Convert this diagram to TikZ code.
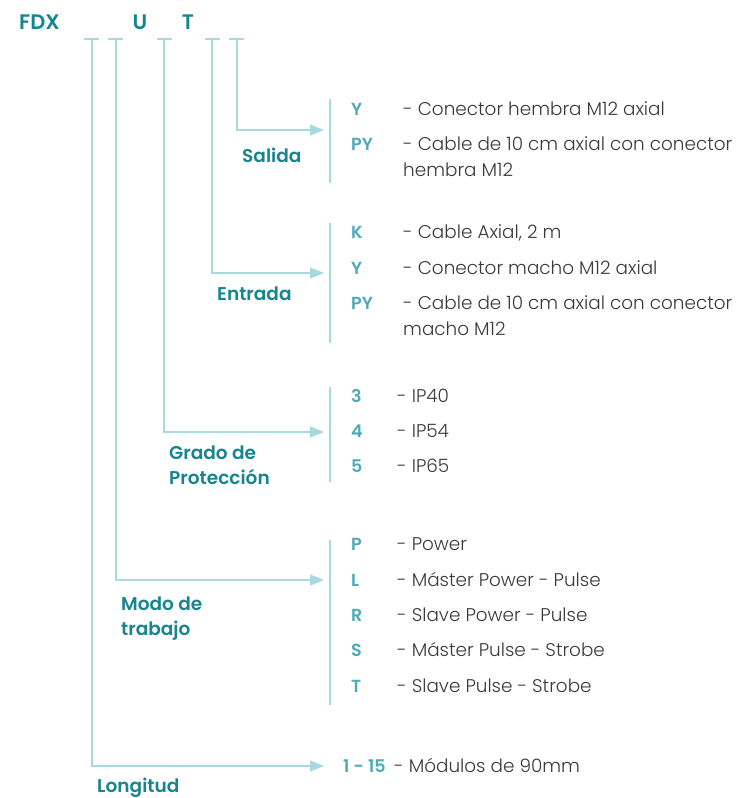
\documentclass[tikz,border=0pt]{standalone}
\usepackage{fontspec}
\setmainfont{Poppins}[UprightFont={* Light},BoldFont={* SemiBold}]
\usetikzlibrary{arrows.meta}
\definecolor{lblc}{HTML}{17858F}
\definecolor{keyc}{HTML}{4DABB7}
\definecolor{linec}{HTML}{A8D8E0}
\definecolor{txtc}{HTML}{3A3A3A}
\begin{document}
\begin{tikzpicture}[x=1pt,y=-1pt,
 lbl/.style={text=lblc,font=\fontsize{18.5}{24}\selectfont\bfseries,inner sep=0,anchor=base west},
 toplbl/.style={lbl,font=\fontsize{21}{24}\selectfont\bfseries},
 key/.style={text=keyc,font=\fontsize{17.5}{24}\selectfont\bfseries,inner sep=0,anchor=base west},
 desc/.style={text=txtc,font=\fontsize{18.4}{24}\selectfont,inner sep=0,anchor=base west},
 conn/.style={draw=linec,line width=1.2pt,-{Triangle[length=14pt,width=11pt]}},
 tickbar/.style={draw=linec,line width=1.2pt},
 brk/.style={draw=linec,line width=1.2pt}]
\useasboundingbox[fill=white] (0,0) rectangle (737,798);
% top code
\node[toplbl] (fdx) at (19,29) {FDX};
\node[toplbl,anchor=base] (u) at (140,29) {U};
\node[toplbl,anchor=base] (t) at (188,29) {T};
% tick bars
\draw[tickbar] (84,39) -- (99,39);
\draw[tickbar] (108,39) -- (123,39);
\draw[tickbar] (157,39) -- (172,39);
\draw[tickbar] (205,39) -- (220,39);
\draw[tickbar] (229,39) -- (244,39);
\coordinate (t1) at (92,39);
\coordinate (t2) at (116,39);
\coordinate (t3) at (164,39);
\coordinate (t4) at (212,39);
\coordinate (t5) at (237,39);
% arrow tips
\coordinate (a1) at (324,766);
\coordinate (a2) at (324,580);
\coordinate (a3) at (324,432);
\coordinate (a4) at (324,273);
\coordinate (a5) at (324,130);
\draw[conn] (t1) |- (a1);
\draw[conn] (t2) |- (a2);
\draw[conn] (t3) |- (a3);
\draw[conn] (t4) |- (a4);
\draw[conn] (t5) |- (a5);
% brackets
\draw[brk] (330,99) coordinate (b5s) -- (330,183) coordinate (b5e);
\draw[brk] (330,223) coordinate (b4s) -- (330,343) coordinate (b4e);
\draw[brk] (330,387) coordinate (b3s) -- (330,482) coordinate (b3e);
\draw[brk] (330,540) coordinate (b2s) -- (330,705) coordinate (b2e);
% group labels
\node[lbl] (salida) at (242,162) {Salida};
\node[lbl] (entrada) at (217,300) {Entrada};
\node[lbl] (grado1) at (169,459) {Grado de};
\node[lbl] (grado2) at (169,484) {Protección};
\node[lbl] (modo1) at (121,610) {Modo de};
\node[lbl] (modo2) at (121,635) {trabajo};
\node[lbl] (longitud) at (97,792) {Longitud};
% Salida
\node[key] (sy) at (351,115) {Y};
\node[desc] (syd) at (403,115) {- Conector hembra M12 axial};
\node[key] (spy) at (351,150.5) {PY};
\node[desc] (spyd) at (403,150.5) {- Cable de 10 cm axial con conector};
\node[desc] (spyd2) at (403,176) {hembra M12};
% Entrada
\node[key] (ek) at (351,238.5) {K};
\node[desc] (ekd) at (403,238.5) {- Cable Axial, 2 m};
\node[key] (ey) at (351,274) {Y};
\node[desc] (eyd) at (403,274) {- Conector macho M12 axial};
\node[key] (epy) at (351,309) {PY};
\node[desc] (epyd) at (403,309) {- Cable de 10 cm axial con conector};
\node[desc] (epyd2) at (403,335) {macho M12};
% Grado
\node[key] (g3) at (351,402.5) {3};
\node[desc] (g3d) at (397,402.5) {- IP40};
\node[key] (g4) at (351,437.5) {4};
\node[desc] (g4d) at (397,437.5) {- IP54};
\node[key] (g5) at (351,472.5) {5};
\node[desc] (g5d) at (397,472.5) {- IP65};
% Modo
\node[key] (mp) at (351,550.5) {P};
\node[desc] (mpd) at (397,550.5) {- Power};
\node[key] (ml) at (351,586) {L};
\node[desc] (mld) at (397,586) {- Máster Power - Pulse};
\node[key] (mr) at (351,621.5) {R};
\node[desc] (mrd) at (397,621.5) {- Slave Power - Pulse};
\node[key] (ms) at (351,656.5) {S};
\node[desc] (msd) at (397,656.5) {- Máster Pulse - Strobe};
\node[key] (mt) at (351,692) {T};
\node[desc] (mtd) at (397,692) {- Slave Pulse - Strobe};
% Longitud
\node[key] (l115) at (343,772.5) {1 - 15};
\node[desc] (l115d) at (394,772.5) {- Módulos de 90mm};
\end{tikzpicture}
\end{document}
